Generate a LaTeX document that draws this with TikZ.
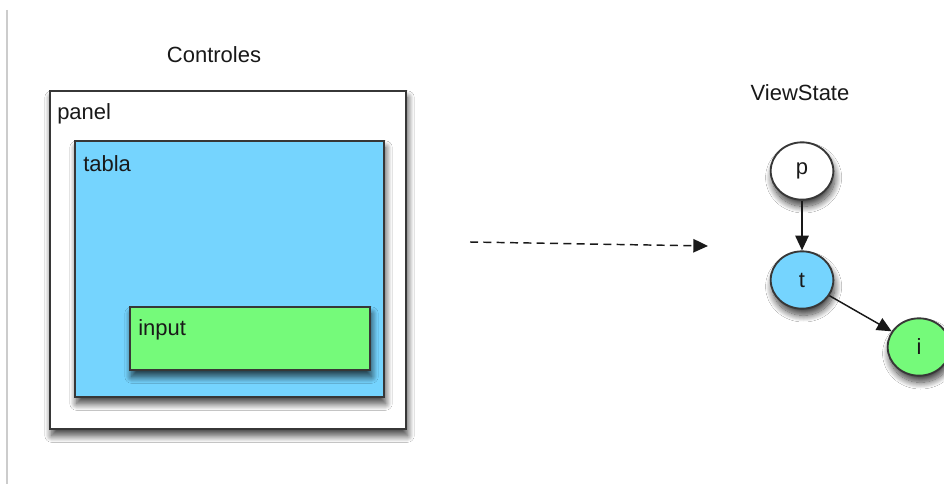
\documentclass[tikz,border=0pt]{standalone}
\usepackage{fontspec}
\setmainfont{Liberation Sans}
\usetikzlibrary{arrows.meta,shapes.geometric,shadows.blur}
\definecolor{boxblue}{RGB}{117,212,254}
\definecolor{boxgreen}{RGB}{117,250,122}
\definecolor{edge}{RGB}{55,55,55}
\begin{document}
\begin{tikzpicture}[x=0.75pt,y=-0.75pt,
  lbl/.style={font=\fontsize{16.5pt}{19pt}\selectfont, text=black!90, inner sep=0pt},
  shadowed/.style={blur shadow={shadow xshift=1.2pt, shadow yshift=-5pt, shadow blur radius=5pt, shadow blur steps=14, shadow opacity=75}},
  boxnode/.style={draw=edge, line width=1.4pt, anchor=north west, inner sep=0pt, shadowed},
  vnode/.style={ellipse, draw=edge, line width=1.4pt, minimum width=47pt, minimum height=43pt, inner sep=0pt,
    font=\fontsize{16.5pt}{19pt}\selectfont, text=black!90, shadowed},
  arr/.style={-{Triangle[length=11pt,width=10pt]}, line width=1.1pt, draw=black!90}
]
\useasboundingbox (0,0) rectangle (944,484);
\fill[white] (0,0) rectangle (944,484);
\draw[black!20, line width=1.5pt] (7,10) -- (7,484);

\node[lbl] (controles) at (214,55) {Controles};
\node[boxnode, fill=white, minimum width=267pt, minimum height=253.5pt] (panel) at (49,90) {};
\node[lbl, anchor=west] (panellbl) at (57,114) {panel};
\node[boxnode, fill=boxblue, minimum width=231.75pt, minimum height=192pt] (tabla) at (74,140) {};
\node[lbl, anchor=west] (tablalbl) at (83,164) {tabla};
\node[boxnode, fill=boxgreen, minimum width=180pt, minimum height=47.25pt] (input) at (129,306) {};
\node[lbl, anchor=west] (inputlbl) at (138,330) {input};

\node[lbl] (viewstate) at (800,93) {ViewState};
\node[vnode, fill=white] (p) at (802,171) {p};
\node[vnode, fill=boxblue] (t) at (802,280) {t};
\node[vnode, fill=boxgreen] (i) at (919,347) {i};

\draw[arr] (p) -- (t);
\draw[arr] (t) -- (i);

\coordinate (ds) at (470,242);
\coordinate (de) at (708,246);
\draw[arr, dash pattern=on 6pt off 4pt] (ds) -- (de);
\end{tikzpicture}
\end{document}
